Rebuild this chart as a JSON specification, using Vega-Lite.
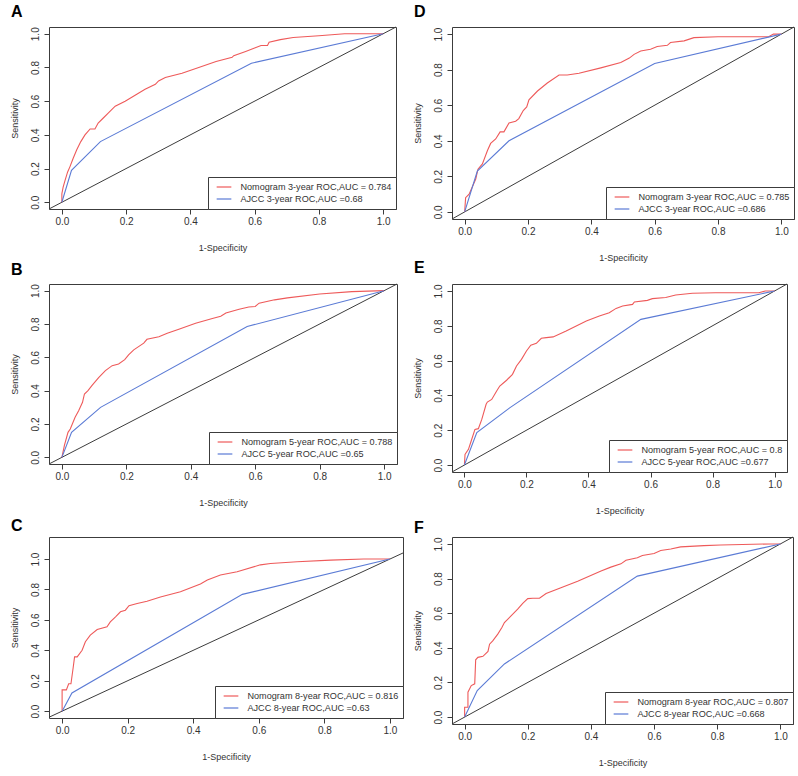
{
  "$schema": "https://vega.github.io/schema/vega-lite/v6.json",
  "padding": {"left": 9, "top": 3, "right": 0, "bottom": 0},
  "datasets": {
    "diag": [{"x": -0.04, "y": -0.04, "xe": 1.04, "ye": 1.04}],
    "roc": [
      {"p":"A","c":"Nomogram 3-year ROC,AUC = 0.784","x":0,"y":0},
      {"p":"A","c":"Nomogram 3-year ROC,AUC = 0.784","x":0,"y":0.05},
      {"p":"A","c":"Nomogram 3-year ROC,AUC = 0.784","x":0.004,"y":0.09},
      {"p":"A","c":"Nomogram 3-year ROC,AUC = 0.784","x":0.01,"y":0.13},
      {"p":"A","c":"Nomogram 3-year ROC,AUC = 0.784","x":0.018,"y":0.18},
      {"p":"A","c":"Nomogram 3-year ROC,AUC = 0.784","x":0.025,"y":0.21},
      {"p":"A","c":"Nomogram 3-year ROC,AUC = 0.784","x":0.035,"y":0.26},
      {"p":"A","c":"Nomogram 3-year ROC,AUC = 0.784","x":0.046,"y":0.31},
      {"p":"A","c":"Nomogram 3-year ROC,AUC = 0.784","x":0.059,"y":0.36},
      {"p":"A","c":"Nomogram 3-year ROC,AUC = 0.784","x":0.072,"y":0.4},
      {"p":"A","c":"Nomogram 3-year ROC,AUC = 0.784","x":0.088,"y":0.435},
      {"p":"A","c":"Nomogram 3-year ROC,AUC = 0.784","x":0.103,"y":0.435},
      {"p":"A","c":"Nomogram 3-year ROC,AUC = 0.784","x":0.113,"y":0.47},
      {"p":"A","c":"Nomogram 3-year ROC,AUC = 0.784","x":0.129,"y":0.5},
      {"p":"A","c":"Nomogram 3-year ROC,AUC = 0.784","x":0.145,"y":0.53},
      {"p":"A","c":"Nomogram 3-year ROC,AUC = 0.784","x":0.166,"y":0.57},
      {"p":"A","c":"Nomogram 3-year ROC,AUC = 0.784","x":0.197,"y":0.6},
      {"p":"A","c":"Nomogram 3-year ROC,AUC = 0.784","x":0.228,"y":0.635},
      {"p":"A","c":"Nomogram 3-year ROC,AUC = 0.784","x":0.259,"y":0.67},
      {"p":"A","c":"Nomogram 3-year ROC,AUC = 0.784","x":0.291,"y":0.7},
      {"p":"A","c":"Nomogram 3-year ROC,AUC = 0.784","x":0.301,"y":0.72},
      {"p":"A","c":"Nomogram 3-year ROC,AUC = 0.784","x":0.322,"y":0.74},
      {"p":"A","c":"Nomogram 3-year ROC,AUC = 0.784","x":0.374,"y":0.765},
      {"p":"A","c":"Nomogram 3-year ROC,AUC = 0.784","x":0.426,"y":0.8},
      {"p":"A","c":"Nomogram 3-year ROC,AUC = 0.784","x":0.48,"y":0.835},
      {"p":"A","c":"Nomogram 3-year ROC,AUC = 0.784","x":0.53,"y":0.86},
      {"p":"A","c":"Nomogram 3-year ROC,AUC = 0.784","x":0.535,"y":0.87},
      {"p":"A","c":"Nomogram 3-year ROC,AUC = 0.784","x":0.572,"y":0.895},
      {"p":"A","c":"Nomogram 3-year ROC,AUC = 0.784","x":0.6,"y":0.915},
      {"p":"A","c":"Nomogram 3-year ROC,AUC = 0.784","x":0.62,"y":0.93},
      {"p":"A","c":"Nomogram 3-year ROC,AUC = 0.784","x":0.64,"y":0.93},
      {"p":"A","c":"Nomogram 3-year ROC,AUC = 0.784","x":0.645,"y":0.95},
      {"p":"A","c":"Nomogram 3-year ROC,AUC = 0.784","x":0.68,"y":0.965},
      {"p":"A","c":"Nomogram 3-year ROC,AUC = 0.784","x":0.72,"y":0.978},
      {"p":"A","c":"Nomogram 3-year ROC,AUC = 0.784","x":0.8,"y":0.988},
      {"p":"A","c":"Nomogram 3-year ROC,AUC = 0.784","x":0.88,"y":1},
      {"p":"A","c":"Nomogram 3-year ROC,AUC = 0.784","x":1,"y":1},
      {"p":"A","c":"AJCC 3-year ROC,AUC =0.68","x":0,"y":0},
      {"p":"A","c":"AJCC 3-year ROC,AUC =0.68","x":0.03,"y":0.19},
      {"p":"A","c":"AJCC 3-year ROC,AUC =0.68","x":0.12,"y":0.36},
      {"p":"A","c":"AJCC 3-year ROC,AUC =0.68","x":0.59,"y":0.825},
      {"p":"A","c":"AJCC 3-year ROC,AUC =0.68","x":1,"y":1},

      {"p":"D","c":"Nomogram 3-year ROC,AUC = 0.785","x":0,"y":0},
      {"p":"D","c":"Nomogram 3-year ROC,AUC = 0.785","x":0.003,"y":0.08},
      {"p":"D","c":"Nomogram 3-year ROC,AUC = 0.785","x":0.014,"y":0.1},
      {"p":"D","c":"Nomogram 3-year ROC,AUC = 0.785","x":0.024,"y":0.14},
      {"p":"D","c":"Nomogram 3-year ROC,AUC = 0.785","x":0.035,"y":0.185},
      {"p":"D","c":"Nomogram 3-year ROC,AUC = 0.785","x":0.042,"y":0.24},
      {"p":"D","c":"Nomogram 3-year ROC,AUC = 0.785","x":0.056,"y":0.27},
      {"p":"D","c":"Nomogram 3-year ROC,AUC = 0.785","x":0.072,"y":0.345},
      {"p":"D","c":"Nomogram 3-year ROC,AUC = 0.785","x":0.082,"y":0.385},
      {"p":"D","c":"Nomogram 3-year ROC,AUC = 0.785","x":0.098,"y":0.41},
      {"p":"D","c":"Nomogram 3-year ROC,AUC = 0.785","x":0.112,"y":0.45},
      {"p":"D","c":"Nomogram 3-year ROC,AUC = 0.785","x":0.124,"y":0.45},
      {"p":"D","c":"Nomogram 3-year ROC,AUC = 0.785","x":0.14,"y":0.5},
      {"p":"D","c":"Nomogram 3-year ROC,AUC = 0.785","x":0.161,"y":0.51},
      {"p":"D","c":"Nomogram 3-year ROC,AUC = 0.785","x":0.171,"y":0.525},
      {"p":"D","c":"Nomogram 3-year ROC,AUC = 0.785","x":0.185,"y":0.57},
      {"p":"D","c":"Nomogram 3-year ROC,AUC = 0.785","x":0.196,"y":0.59},
      {"p":"D","c":"Nomogram 3-year ROC,AUC = 0.785","x":0.203,"y":0.63},
      {"p":"D","c":"Nomogram 3-year ROC,AUC = 0.785","x":0.23,"y":0.68},
      {"p":"D","c":"Nomogram 3-year ROC,AUC = 0.785","x":0.261,"y":0.725},
      {"p":"D","c":"Nomogram 3-year ROC,AUC = 0.785","x":0.298,"y":0.77},
      {"p":"D","c":"Nomogram 3-year ROC,AUC = 0.785","x":0.324,"y":0.77},
      {"p":"D","c":"Nomogram 3-year ROC,AUC = 0.785","x":0.361,"y":0.78},
      {"p":"D","c":"Nomogram 3-year ROC,AUC = 0.785","x":0.43,"y":0.81},
      {"p":"D","c":"Nomogram 3-year ROC,AUC = 0.785","x":0.493,"y":0.84},
      {"p":"D","c":"Nomogram 3-year ROC,AUC = 0.785","x":0.52,"y":0.865},
      {"p":"D","c":"Nomogram 3-year ROC,AUC = 0.785","x":0.535,"y":0.886},
      {"p":"D","c":"Nomogram 3-year ROC,AUC = 0.785","x":0.556,"y":0.905},
      {"p":"D","c":"Nomogram 3-year ROC,AUC = 0.785","x":0.587,"y":0.915},
      {"p":"D","c":"Nomogram 3-year ROC,AUC = 0.785","x":0.608,"y":0.93},
      {"p":"D","c":"Nomogram 3-year ROC,AUC = 0.785","x":0.64,"y":0.937},
      {"p":"D","c":"Nomogram 3-year ROC,AUC = 0.785","x":0.65,"y":0.953},
      {"p":"D","c":"Nomogram 3-year ROC,AUC = 0.785","x":0.693,"y":0.962},
      {"p":"D","c":"Nomogram 3-year ROC,AUC = 0.785","x":0.724,"y":0.98},
      {"p":"D","c":"Nomogram 3-year ROC,AUC = 0.785","x":0.8,"y":0.985},
      {"p":"D","c":"Nomogram 3-year ROC,AUC = 0.785","x":0.96,"y":0.985},
      {"p":"D","c":"Nomogram 3-year ROC,AUC = 0.785","x":0.975,"y":1},
      {"p":"D","c":"Nomogram 3-year ROC,AUC = 0.785","x":1,"y":1},
      {"p":"D","c":"AJCC 3-year ROC,AUC =0.686","x":0,"y":0},
      {"p":"D","c":"AJCC 3-year ROC,AUC =0.686","x":0.04,"y":0.23},
      {"p":"D","c":"AJCC 3-year ROC,AUC =0.686","x":0.14,"y":0.4},
      {"p":"D","c":"AJCC 3-year ROC,AUC =0.686","x":0.6,"y":0.835},
      {"p":"D","c":"AJCC 3-year ROC,AUC =0.686","x":1,"y":1},

      {"p":"B","c":"Nomogram 5-year ROC,AUC = 0.788","x":0,"y":0},
      {"p":"B","c":"Nomogram 5-year ROC,AUC = 0.788","x":0.008,"y":0.073},
      {"p":"B","c":"Nomogram 5-year ROC,AUC = 0.788","x":0.019,"y":0.15},
      {"p":"B","c":"Nomogram 5-year ROC,AUC = 0.788","x":0.026,"y":0.17},
      {"p":"B","c":"Nomogram 5-year ROC,AUC = 0.788","x":0.041,"y":0.24},
      {"p":"B","c":"Nomogram 5-year ROC,AUC = 0.788","x":0.052,"y":0.28},
      {"p":"B","c":"Nomogram 5-year ROC,AUC = 0.788","x":0.064,"y":0.33},
      {"p":"B","c":"Nomogram 5-year ROC,AUC = 0.788","x":0.07,"y":0.38},
      {"p":"B","c":"Nomogram 5-year ROC,AUC = 0.788","x":0.081,"y":0.4},
      {"p":"B","c":"Nomogram 5-year ROC,AUC = 0.788","x":0.093,"y":0.43},
      {"p":"B","c":"Nomogram 5-year ROC,AUC = 0.788","x":0.114,"y":0.478},
      {"p":"B","c":"Nomogram 5-year ROC,AUC = 0.788","x":0.135,"y":0.52},
      {"p":"B","c":"Nomogram 5-year ROC,AUC = 0.788","x":0.156,"y":0.55},
      {"p":"B","c":"Nomogram 5-year ROC,AUC = 0.788","x":0.176,"y":0.56},
      {"p":"B","c":"Nomogram 5-year ROC,AUC = 0.788","x":0.195,"y":0.586},
      {"p":"B","c":"Nomogram 5-year ROC,AUC = 0.788","x":0.207,"y":0.615},
      {"p":"B","c":"Nomogram 5-year ROC,AUC = 0.788","x":0.223,"y":0.645},
      {"p":"B","c":"Nomogram 5-year ROC,AUC = 0.788","x":0.254,"y":0.685},
      {"p":"B","c":"Nomogram 5-year ROC,AUC = 0.788","x":0.264,"y":0.708},
      {"p":"B","c":"Nomogram 5-year ROC,AUC = 0.788","x":0.301,"y":0.724},
      {"p":"B","c":"Nomogram 5-year ROC,AUC = 0.788","x":0.327,"y":0.744},
      {"p":"B","c":"Nomogram 5-year ROC,AUC = 0.788","x":0.363,"y":0.768},
      {"p":"B","c":"Nomogram 5-year ROC,AUC = 0.788","x":0.415,"y":0.804},
      {"p":"B","c":"Nomogram 5-year ROC,AUC = 0.788","x":0.467,"y":0.833},
      {"p":"B","c":"Nomogram 5-year ROC,AUC = 0.788","x":0.493,"y":0.846},
      {"p":"B","c":"Nomogram 5-year ROC,AUC = 0.788","x":0.509,"y":0.866},
      {"p":"B","c":"Nomogram 5-year ROC,AUC = 0.788","x":0.55,"y":0.888},
      {"p":"B","c":"Nomogram 5-year ROC,AUC = 0.788","x":0.58,"y":0.902},
      {"p":"B","c":"Nomogram 5-year ROC,AUC = 0.788","x":0.6,"y":0.905},
      {"p":"B","c":"Nomogram 5-year ROC,AUC = 0.788","x":0.612,"y":0.925},
      {"p":"B","c":"Nomogram 5-year ROC,AUC = 0.788","x":0.66,"y":0.945},
      {"p":"B","c":"Nomogram 5-year ROC,AUC = 0.788","x":0.7,"y":0.957},
      {"p":"B","c":"Nomogram 5-year ROC,AUC = 0.788","x":0.8,"y":0.98},
      {"p":"B","c":"Nomogram 5-year ROC,AUC = 0.788","x":0.9,"y":0.994},
      {"p":"B","c":"Nomogram 5-year ROC,AUC = 0.788","x":1,"y":1},
      {"p":"B","c":"AJCC 5-year ROC,AUC =0.65","x":0,"y":0},
      {"p":"B","c":"AJCC 5-year ROC,AUC =0.65","x":0.03,"y":0.15},
      {"p":"B","c":"AJCC 5-year ROC,AUC =0.65","x":0.12,"y":0.3},
      {"p":"B","c":"AJCC 5-year ROC,AUC =0.65","x":0.575,"y":0.785},
      {"p":"B","c":"AJCC 5-year ROC,AUC =0.65","x":1,"y":1},

      {"p":"E","c":"Nomogram 5-year ROC,AUC = 0.8","x":0,"y":0},
      {"p":"E","c":"Nomogram 5-year ROC,AUC = 0.8","x":0.002,"y":0.061},
      {"p":"E","c":"Nomogram 5-year ROC,AUC = 0.8","x":0.013,"y":0.09},
      {"p":"E","c":"Nomogram 5-year ROC,AUC = 0.8","x":0.02,"y":0.128},
      {"p":"E","c":"Nomogram 5-year ROC,AUC = 0.8","x":0.034,"y":0.205},
      {"p":"E","c":"Nomogram 5-year ROC,AUC = 0.8","x":0.045,"y":0.209},
      {"p":"E","c":"Nomogram 5-year ROC,AUC = 0.8","x":0.056,"y":0.262},
      {"p":"E","c":"Nomogram 5-year ROC,AUC = 0.8","x":0.07,"y":0.349},
      {"p":"E","c":"Nomogram 5-year ROC,AUC = 0.8","x":0.074,"y":0.362},
      {"p":"E","c":"Nomogram 5-year ROC,AUC = 0.8","x":0.088,"y":0.377},
      {"p":"E","c":"Nomogram 5-year ROC,AUC = 0.8","x":0.104,"y":0.425},
      {"p":"E","c":"Nomogram 5-year ROC,AUC = 0.8","x":0.114,"y":0.454},
      {"p":"E","c":"Nomogram 5-year ROC,AUC = 0.8","x":0.136,"y":0.487},
      {"p":"E","c":"Nomogram 5-year ROC,AUC = 0.8","x":0.155,"y":0.521},
      {"p":"E","c":"Nomogram 5-year ROC,AUC = 0.8","x":0.168,"y":0.569},
      {"p":"E","c":"Nomogram 5-year ROC,AUC = 0.8","x":0.184,"y":0.607},
      {"p":"E","c":"Nomogram 5-year ROC,AUC = 0.8","x":0.2,"y":0.655},
      {"p":"E","c":"Nomogram 5-year ROC,AUC = 0.8","x":0.214,"y":0.688},
      {"p":"E","c":"Nomogram 5-year ROC,AUC = 0.8","x":0.232,"y":0.699},
      {"p":"E","c":"Nomogram 5-year ROC,AUC = 0.8","x":0.248,"y":0.728},
      {"p":"E","c":"Nomogram 5-year ROC,AUC = 0.8","x":0.264,"y":0.732},
      {"p":"E","c":"Nomogram 5-year ROC,AUC = 0.8","x":0.286,"y":0.736},
      {"p":"E","c":"Nomogram 5-year ROC,AUC = 0.8","x":0.328,"y":0.77},
      {"p":"E","c":"Nomogram 5-year ROC,AUC = 0.8","x":0.393,"y":0.828},
      {"p":"E","c":"Nomogram 5-year ROC,AUC = 0.8","x":0.435,"y":0.856},
      {"p":"E","c":"Nomogram 5-year ROC,AUC = 0.8","x":0.467,"y":0.875},
      {"p":"E","c":"Nomogram 5-year ROC,AUC = 0.8","x":0.489,"y":0.9},
      {"p":"E","c":"Nomogram 5-year ROC,AUC = 0.8","x":0.51,"y":0.914},
      {"p":"E","c":"Nomogram 5-year ROC,AUC = 0.8","x":0.542,"y":0.923},
      {"p":"E","c":"Nomogram 5-year ROC,AUC = 0.8","x":0.548,"y":0.937},
      {"p":"E","c":"Nomogram 5-year ROC,AUC = 0.8","x":0.59,"y":0.946},
      {"p":"E","c":"Nomogram 5-year ROC,AUC = 0.8","x":0.606,"y":0.956},
      {"p":"E","c":"Nomogram 5-year ROC,AUC = 0.8","x":0.649,"y":0.962},
      {"p":"E","c":"Nomogram 5-year ROC,AUC = 0.8","x":0.681,"y":0.977},
      {"p":"E","c":"Nomogram 5-year ROC,AUC = 0.8","x":0.735,"y":0.987},
      {"p":"E","c":"Nomogram 5-year ROC,AUC = 0.8","x":0.81,"y":0.99},
      {"p":"E","c":"Nomogram 5-year ROC,AUC = 0.8","x":0.949,"y":0.99},
      {"p":"E","c":"Nomogram 5-year ROC,AUC = 0.8","x":0.97,"y":1},
      {"p":"E","c":"Nomogram 5-year ROC,AUC = 0.8","x":1,"y":1},
      {"p":"E","c":"AJCC 5-year ROC,AUC =0.677","x":0,"y":0},
      {"p":"E","c":"AJCC 5-year ROC,AUC =0.677","x":0.04,"y":0.186},
      {"p":"E","c":"AJCC 5-year ROC,AUC =0.677","x":0.147,"y":0.33},
      {"p":"E","c":"AJCC 5-year ROC,AUC =0.677","x":0.569,"y":0.837},
      {"p":"E","c":"AJCC 5-year ROC,AUC =0.677","x":1,"y":1},

      {"p":"C","c":"Nomogram 8-year ROC,AUC = 0.816","x":0,"y":0},
      {"p":"C","c":"Nomogram 8-year ROC,AUC = 0.816","x":0,"y":0.14},
      {"p":"C","c":"Nomogram 8-year ROC,AUC = 0.816","x":0.013,"y":0.14},
      {"p":"C","c":"Nomogram 8-year ROC,AUC = 0.816","x":0.02,"y":0.18},
      {"p":"C","c":"Nomogram 8-year ROC,AUC = 0.816","x":0.027,"y":0.18},
      {"p":"C","c":"Nomogram 8-year ROC,AUC = 0.816","x":0.034,"y":0.29},
      {"p":"C","c":"Nomogram 8-year ROC,AUC = 0.816","x":0.038,"y":0.357},
      {"p":"C","c":"Nomogram 8-year ROC,AUC = 0.816","x":0.046,"y":0.357},
      {"p":"C","c":"Nomogram 8-year ROC,AUC = 0.816","x":0.061,"y":0.4},
      {"p":"C","c":"Nomogram 8-year ROC,AUC = 0.816","x":0.071,"y":0.456},
      {"p":"C","c":"Nomogram 8-year ROC,AUC = 0.816","x":0.086,"y":0.5},
      {"p":"C","c":"Nomogram 8-year ROC,AUC = 0.816","x":0.107,"y":0.537},
      {"p":"C","c":"Nomogram 8-year ROC,AUC = 0.816","x":0.137,"y":0.555},
      {"p":"C","c":"Nomogram 8-year ROC,AUC = 0.816","x":0.147,"y":0.587},
      {"p":"C","c":"Nomogram 8-year ROC,AUC = 0.816","x":0.163,"y":0.62},
      {"p":"C","c":"Nomogram 8-year ROC,AUC = 0.816","x":0.178,"y":0.653},
      {"p":"C","c":"Nomogram 8-year ROC,AUC = 0.816","x":0.193,"y":0.664},
      {"p":"C","c":"Nomogram 8-year ROC,AUC = 0.816","x":0.204,"y":0.693},
      {"p":"C","c":"Nomogram 8-year ROC,AUC = 0.816","x":0.229,"y":0.708},
      {"p":"C","c":"Nomogram 8-year ROC,AUC = 0.816","x":0.259,"y":0.723},
      {"p":"C","c":"Nomogram 8-year ROC,AUC = 0.816","x":0.3,"y":0.751},
      {"p":"C","c":"Nomogram 8-year ROC,AUC = 0.816","x":0.361,"y":0.785},
      {"p":"C","c":"Nomogram 8-year ROC,AUC = 0.816","x":0.422,"y":0.836},
      {"p":"C","c":"Nomogram 8-year ROC,AUC = 0.816","x":0.443,"y":0.862},
      {"p":"C","c":"Nomogram 8-year ROC,AUC = 0.816","x":0.483,"y":0.895},
      {"p":"C","c":"Nomogram 8-year ROC,AUC = 0.816","x":0.534,"y":0.917},
      {"p":"C","c":"Nomogram 8-year ROC,AUC = 0.816","x":0.605,"y":0.962},
      {"p":"C","c":"Nomogram 8-year ROC,AUC = 0.816","x":0.636,"y":0.971},
      {"p":"C","c":"Nomogram 8-year ROC,AUC = 0.816","x":0.717,"y":0.982},
      {"p":"C","c":"Nomogram 8-year ROC,AUC = 0.816","x":0.819,"y":0.993},
      {"p":"C","c":"Nomogram 8-year ROC,AUC = 0.816","x":0.92,"y":1},
      {"p":"C","c":"Nomogram 8-year ROC,AUC = 0.816","x":1,"y":1},
      {"p":"C","c":"AJCC 8-year ROC,AUC =0.63","x":0,"y":0},
      {"p":"C","c":"AJCC 8-year ROC,AUC =0.63","x":0.03,"y":0.12},
      {"p":"C","c":"AJCC 8-year ROC,AUC =0.63","x":0.55,"y":0.768},
      {"p":"C","c":"AJCC 8-year ROC,AUC =0.63","x":1,"y":1},

      {"p":"F","c":"Nomogram 8-year ROC,AUC = 0.807","x":0,"y":0},
      {"p":"F","c":"Nomogram 8-year ROC,AUC = 0.807","x":0,"y":0.057},
      {"p":"F","c":"Nomogram 8-year ROC,AUC = 0.807","x":0.0105,"y":0.057},
      {"p":"F","c":"Nomogram 8-year ROC,AUC = 0.807","x":0.0105,"y":0.144},
      {"p":"F","c":"Nomogram 8-year ROC,AUC = 0.807","x":0.021,"y":0.182},
      {"p":"F","c":"Nomogram 8-year ROC,AUC = 0.807","x":0.032,"y":0.192},
      {"p":"F","c":"Nomogram 8-year ROC,AUC = 0.807","x":0.035,"y":0.331},
      {"p":"F","c":"Nomogram 8-year ROC,AUC = 0.807","x":0.042,"y":0.345},
      {"p":"F","c":"Nomogram 8-year ROC,AUC = 0.807","x":0.058,"y":0.351},
      {"p":"F","c":"Nomogram 8-year ROC,AUC = 0.807","x":0.074,"y":0.379},
      {"p":"F","c":"Nomogram 8-year ROC,AUC = 0.807","x":0.079,"y":0.421},
      {"p":"F","c":"Nomogram 8-year ROC,AUC = 0.807","x":0.089,"y":0.44},
      {"p":"F","c":"Nomogram 8-year ROC,AUC = 0.807","x":0.105,"y":0.479},
      {"p":"F","c":"Nomogram 8-year ROC,AUC = 0.807","x":0.118,"y":0.517},
      {"p":"F","c":"Nomogram 8-year ROC,AUC = 0.807","x":0.126,"y":0.546},
      {"p":"F","c":"Nomogram 8-year ROC,AUC = 0.807","x":0.147,"y":0.584},
      {"p":"F","c":"Nomogram 8-year ROC,AUC = 0.807","x":0.168,"y":0.623},
      {"p":"F","c":"Nomogram 8-year ROC,AUC = 0.807","x":0.184,"y":0.657},
      {"p":"F","c":"Nomogram 8-year ROC,AUC = 0.807","x":0.2,"y":0.684},
      {"p":"F","c":"Nomogram 8-year ROC,AUC = 0.807","x":0.216,"y":0.686},
      {"p":"F","c":"Nomogram 8-year ROC,AUC = 0.807","x":0.237,"y":0.686},
      {"p":"F","c":"Nomogram 8-year ROC,AUC = 0.807","x":0.258,"y":0.714},
      {"p":"F","c":"Nomogram 8-year ROC,AUC = 0.807","x":0.305,"y":0.747},
      {"p":"F","c":"Nomogram 8-year ROC,AUC = 0.807","x":0.358,"y":0.785},
      {"p":"F","c":"Nomogram 8-year ROC,AUC = 0.807","x":0.432,"y":0.843},
      {"p":"F","c":"Nomogram 8-year ROC,AUC = 0.807","x":0.463,"y":0.866},
      {"p":"F","c":"Nomogram 8-year ROC,AUC = 0.807","x":0.495,"y":0.885},
      {"p":"F","c":"Nomogram 8-year ROC,AUC = 0.807","x":0.511,"y":0.906},
      {"p":"F","c":"Nomogram 8-year ROC,AUC = 0.807","x":0.547,"y":0.92},
      {"p":"F","c":"Nomogram 8-year ROC,AUC = 0.807","x":0.563,"y":0.933},
      {"p":"F","c":"Nomogram 8-year ROC,AUC = 0.807","x":0.6,"y":0.945},
      {"p":"F","c":"Nomogram 8-year ROC,AUC = 0.807","x":0.621,"y":0.962},
      {"p":"F","c":"Nomogram 8-year ROC,AUC = 0.807","x":0.653,"y":0.971},
      {"p":"F","c":"Nomogram 8-year ROC,AUC = 0.807","x":0.684,"y":0.983},
      {"p":"F","c":"Nomogram 8-year ROC,AUC = 0.807","x":0.758,"y":0.99},
      {"p":"F","c":"Nomogram 8-year ROC,AUC = 0.807","x":0.811,"y":0.994},
      {"p":"F","c":"Nomogram 8-year ROC,AUC = 0.807","x":0.968,"y":1},
      {"p":"F","c":"Nomogram 8-year ROC,AUC = 0.807","x":1,"y":1},
      {"p":"F","c":"AJCC 8-year ROC,AUC =0.668","x":0,"y":0},
      {"p":"F","c":"AJCC 8-year ROC,AUC =0.668","x":0.04,"y":0.153},
      {"p":"F","c":"AJCC 8-year ROC,AUC =0.668","x":0.126,"y":0.307},
      {"p":"F","c":"AJCC 8-year ROC,AUC =0.668","x":0.547,"y":0.814},
      {"p":"F","c":"AJCC 8-year ROC,AUC =0.668","x":1,"y":1}
    ]
  },
  "columns": 2,
  "bounds": "flush",
  "align": "each",
  "spacing": {"row": 65, "column": 49},
  "resolve": {"scale": {"color": "independent", "x": "independent", "y": "independent"}, "legend": {"color": "independent"}},
  "concat": [
    {
      "width": 347, "height": 182,
      "title": {"text": "A", "offset": 6.5},
      "encoding": {
        "x": {"field": "x", "type": "quantitative", "scale": {"domain": [-0.04, 1.04], "nice": false, "zero": false}, "axis": {"title": "1-Specificity", "values": [0, 0.2, 0.4, 0.6, 0.8, 1], "format": ".1f"}},
        "y": {"field": "y", "type": "quantitative", "scale": {"domain": [-0.04, 1.04], "nice": false, "zero": false}, "axis": {"title": "Sensitivity", "values": [0, 0.2, 0.4, 0.6, 0.8, 1], "format": ".1f"}}
      },
      "layer": [
        {"data": {"name": "diag"}, "mark": {"type": "rule", "color": "#3c3c3c", "strokeWidth": 1}, "encoding": {"x2": {"field": "xe"}, "y2": {"field": "ye"}}},
        {"data": {"name": "roc"}, "transform": [{"filter": "datum.p === 'A'"}], "mark": {"type": "line", "strokeWidth": 1.1},
         "encoding": {"color": {"field": "c", "type": "nominal", "scale": {"domain": ["Nomogram 3-year ROC,AUC = 0.784", "AJCC 3-year ROC,AUC =0.68"], "range": ["#EE5A5A", "#5B7BD5"]}}, "order": {"value": null}}}
      ]
    },
    {
      "width": 342, "height": 192,
      "title": {"text": "D", "offset": 6.5},
      "encoding": {
        "x": {"field": "x", "type": "quantitative", "scale": {"domain": [-0.04, 1.04], "nice": false, "zero": false}, "axis": {"title": "1-Specificity", "values": [0, 0.2, 0.4, 0.6, 0.8, 1], "format": ".1f"}},
        "y": {"field": "y", "type": "quantitative", "scale": {"domain": [-0.04, 1.04], "nice": false, "zero": false}, "axis": {"title": "Sensitivity", "values": [0, 0.2, 0.4, 0.6, 0.8, 1], "format": ".1f"}}
      },
      "layer": [
        {"data": {"name": "diag"}, "mark": {"type": "rule", "color": "#3c3c3c", "strokeWidth": 1}, "encoding": {"x2": {"field": "xe"}, "y2": {"field": "ye"}}},
        {"data": {"name": "roc"}, "transform": [{"filter": "datum.p === 'D'"}], "mark": {"type": "line", "strokeWidth": 1.1},
         "encoding": {"color": {"field": "c", "type": "nominal", "scale": {"domain": ["Nomogram 3-year ROC,AUC = 0.785", "AJCC 3-year ROC,AUC =0.686"], "range": ["#EE5A5A", "#5B7BD5"]}}, "order": {"value": null}}}
      ]
    },
    {
      "width": 348, "height": 180,
      "title": {"text": "B", "offset": 5.5},
      "encoding": {
        "x": {"field": "x", "type": "quantitative", "scale": {"domain": [-0.04, 1.04], "nice": false, "zero": false}, "axis": {"title": "1-Specificity", "values": [0, 0.2, 0.4, 0.6, 0.8, 1], "format": ".1f"}},
        "y": {"field": "y", "type": "quantitative", "scale": {"domain": [-0.04, 1.04], "nice": false, "zero": false}, "axis": {"title": "Sensitivity", "values": [0, 0.2, 0.4, 0.6, 0.8, 1], "format": ".1f"}}
      },
      "layer": [
        {"data": {"name": "diag"}, "mark": {"type": "rule", "color": "#3c3c3c", "strokeWidth": 1}, "encoding": {"x2": {"field": "xe"}, "y2": {"field": "ye"}}},
        {"data": {"name": "roc"}, "transform": [{"filter": "datum.p === 'B'"}], "mark": {"type": "line", "strokeWidth": 1.1},
         "encoding": {"color": {"field": "c", "type": "nominal", "scale": {"domain": ["Nomogram 5-year ROC,AUC = 0.788", "AJCC 5-year ROC,AUC =0.65"], "range": ["#EE5A5A", "#5B7BD5"]}}, "order": {"value": null}}}
      ]
    },
    {
      "width": 335, "height": 188,
      "title": {"text": "E", "offset": 7.5},
      "encoding": {
        "x": {"field": "x", "type": "quantitative", "scale": {"domain": [-0.04, 1.04], "nice": false, "zero": false}, "axis": {"title": "1-Specificity", "values": [0, 0.2, 0.4, 0.6, 0.8, 1], "format": ".1f"}},
        "y": {"field": "y", "type": "quantitative", "scale": {"domain": [-0.04, 1.04], "nice": false, "zero": false}, "axis": {"title": "Sensitivity", "values": [0, 0.2, 0.4, 0.6, 0.8, 1], "format": ".1f"}}
      },
      "layer": [
        {"data": {"name": "diag"}, "mark": {"type": "rule", "color": "#3c3c3c", "strokeWidth": 1}, "encoding": {"x2": {"field": "xe"}, "y2": {"field": "ye"}}},
        {"data": {"name": "roc"}, "transform": [{"filter": "datum.p === 'E'"}], "mark": {"type": "line", "strokeWidth": 1.1},
         "encoding": {"color": {"field": "c", "type": "nominal", "scale": {"domain": ["Nomogram 5-year ROC,AUC = 0.8", "AJCC 5-year ROC,AUC =0.677"], "range": ["#EE5A5A", "#5B7BD5"]}}, "order": {"value": null}}}
      ]
    },
    {
      "width": 354, "height": 181,
      "title": {"text": "C", "offset": 3.5},
      "encoding": {
        "x": {"field": "x", "type": "quantitative", "scale": {"domain": [-0.04, 1.04], "nice": false, "zero": false}, "axis": {"title": "1-Specificity", "values": [0, 0.2, 0.4, 0.6, 0.8, 1], "format": ".1f"}},
        "y": {"field": "y", "type": "quantitative", "scale": {"domain": [-0.045, 1.145], "nice": false, "zero": false}, "axis": {"title": "Sensitivity", "values": [0, 0.2, 0.4, 0.6, 0.8, 1], "format": ".1f"}}
      },
      "layer": [
        {"data": {"name": "diag"}, "mark": {"type": "rule", "color": "#3c3c3c", "strokeWidth": 1}, "encoding": {"x2": {"field": "xe"}, "y2": {"field": "ye"}}},
        {"data": {"name": "roc"}, "transform": [{"filter": "datum.p === 'C'"}], "mark": {"type": "line", "strokeWidth": 1.1},
         "encoding": {"color": {"field": "c", "type": "nominal", "scale": {"domain": ["Nomogram 8-year ROC,AUC = 0.816", "AJCC 8-year ROC,AUC =0.63"], "range": ["#EE5A5A", "#5B7BD5"]}}, "order": {"value": null}}}
      ]
    },
    {
      "width": 341, "height": 187,
      "title": {"text": "F", "offset": 1},
      "encoding": {
        "x": {"field": "x", "type": "quantitative", "scale": {"domain": [-0.04, 1.04], "nice": false, "zero": false}, "axis": {"title": "1-Specificity", "values": [0, 0.2, 0.4, 0.6, 0.8, 1], "format": ".1f"}},
        "y": {"field": "y", "type": "quantitative", "scale": {"domain": [-0.04, 1.04], "nice": false, "zero": false}, "axis": {"title": "Sensitivity", "values": [0, 0.2, 0.4, 0.6, 0.8, 1], "format": ".1f"}}
      },
      "layer": [
        {"data": {"name": "diag"}, "mark": {"type": "rule", "color": "#3c3c3c", "strokeWidth": 1}, "encoding": {"x2": {"field": "xe"}, "y2": {"field": "ye"}}},
        {"data": {"name": "roc"}, "transform": [{"filter": "datum.p === 'F'"}], "mark": {"type": "line", "strokeWidth": 1.1},
         "encoding": {"color": {"field": "c", "type": "nominal", "scale": {"domain": ["Nomogram 8-year ROC,AUC = 0.807", "AJCC 8-year ROC,AUC =0.668"], "range": ["#EE5A5A", "#5B7BD5"]}}, "order": {"value": null}}}
      ]
    }
  ],
  "config": {
    "font": "Liberation Sans",
    "background": "white",
    "view": {"stroke": "#3c3c3c", "strokeWidth": 1},
    "axis": {"domain": false, "grid": false, "tickSize": 5, "tickColor": "#3c3c3c", "labelColor": "#333333", "titleColor": "#333333", "labelFontSize": 10, "titleFontSize": 9, "titleFontWeight": "normal", "labelFlush": false, "labelOverlap": false},
    "axisX": {"labelPadding": 2, "titlePadding": 17},
    "axisY": {"labelAngle": 270, "labelAlign": "center", "labelBaseline": "bottom", "labelPadding": 4, "titlePadding": 11},
    "legend": {"title": null, "orient": "bottom-right", "offset": 0, "padding": 4, "strokeColor": "#3c3c3c", "fillColor": "white", "symbolType": "M-1.4,0L1.4,0", "symbolSize": 110, "symbolStrokeWidth": 1.2, "symbolOffset": 6, "labelFontSize": 9.1, "labelColor": "#333333", "labelOffset": 10.5, "labelLimit": 400, "rowPadding": 0, "cornerRadius": 0},
    "title": {"anchor": "start", "frame": "group", "dx": -38, "fontSize": 16, "fontWeight": "bold", "baseline": "alphabetic", "color": "#000000"}
  }
}
